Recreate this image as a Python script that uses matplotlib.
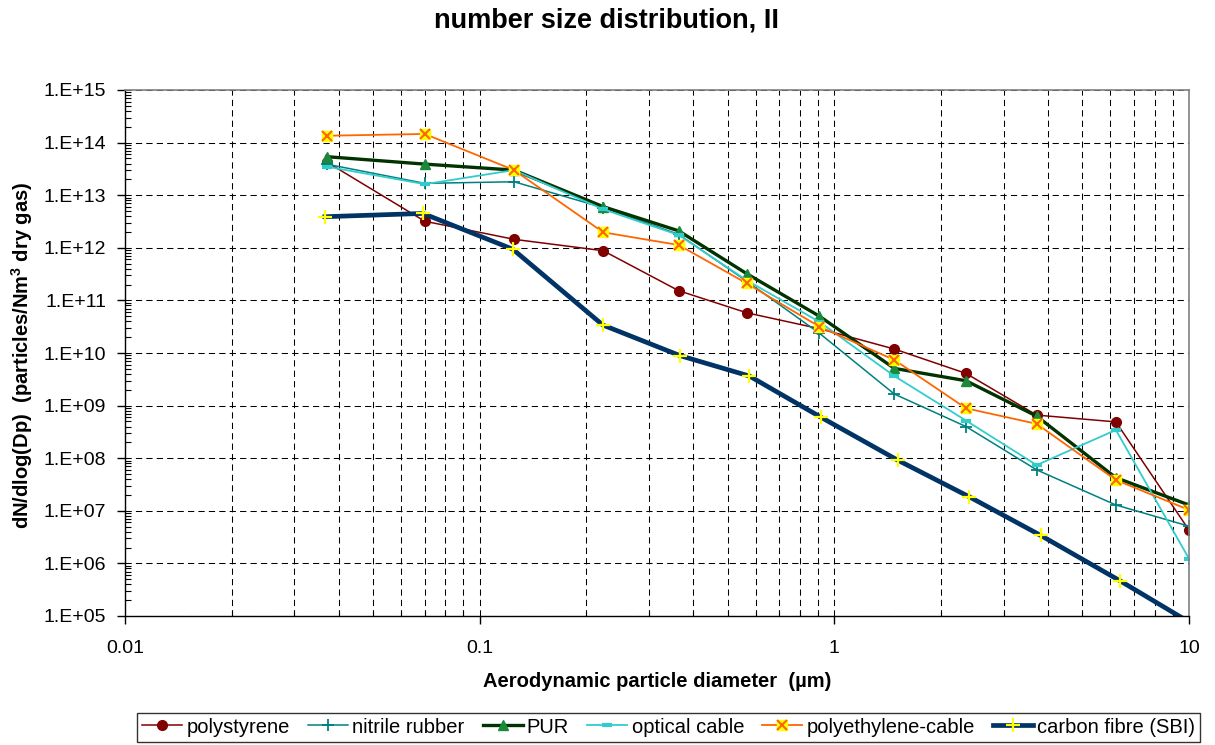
import numpy as np
import matplotlib
matplotlib.use("Agg")
import matplotlib.pyplot as plt
from matplotlib.ticker import LogLocator, FixedLocator, FuncFormatter, NullFormatter
from matplotlib.legend_handler import HandlerTuple

plt.rcParams["font.family"] = ["Liberation Sans", "DejaVu Sans"]
plt.rcParams["mathtext.fontset"] = "custom"
plt.rcParams["mathtext.rm"] = "Liberation Sans"
plt.rcParams["mathtext.bf"] = "Liberation Sans:bold"

# aerodynamic diameters (um)
dp = [0.037, 0.070, 0.125, 0.223, 0.364, 0.567, 0.908, 1.476, 2.35, 3.72, 6.22, 10.0]
dp_sbi = [0.0366, 0.0692, 0.124, 0.2225, 0.3675, 0.576, 0.917, 1.508, 2.40, 3.82, 6.38, 10.1]

polystyrene = [4.3e13, 3.2e12, 1.45e12, 8.8e11, 1.53e11, 5.8e10, 2.9e10, 1.19e10, 4.1e9, 6.6e8, 4.9e8, 4.3e6]
nitrile = [3.9e13, 1.68e13, 1.8e13, 5.8e12, 1.8e12, 2.3e11, 2.37e10, 1.66e9, 4.0e8, 6.0e7, 1.29e7, 5.1e6]
pur = [5.4e13, 3.9e13, 3.0e13, 6.05e12, 2.1e12, 3.2e11, 5.0e10, 5.1e9, 2.97e9, 6.3e8, 4.26e7, 1.29e7]
optical = [3.5e13, 1.62e13, 3.0e13, 5.4e12, 1.75e12, 2.4e11, 3.9e10, 3.65e9, 5.2e8, 7.4e7, 3.44e8, 1.23e6]
polyethylene = [1.35e14, 1.46e14, 3.0e13, 1.97e12, 1.13e12, 2.1e11, 3.16e10, 7.4e9, 8.9e8, 4.5e8, 3.85e7, 1.04e7]
carbon = [3.9e12, 4.5e12, 9.4e11, 3.4e10, 8.9e9, 3.65e9, 6.0e8, 9.2e7, 1.85e7, 3.4e6, 4.7e5, 7.4e4]

fig = plt.figure(figsize=(12.15, 7.45), dpi=100)
ax = fig.add_axes([125 / 1215, 1 - 616 / 745, 1064 / 1215, 526 / 745])

h_ps, = ax.plot(dp, polystyrene, color="#800000", lw=1.1, marker="o", ms=7,
                mfc="#800000", mec="#800000", label="polystyrene")
h_nr, = ax.plot(dp, nitrile, color="#008080", lw=1.1, marker="+", ms=8,
                mew=1.3, label="nitrile rubber")
h_pur, = ax.plot(dp, pur, color="#003300", lw=2.4, marker="^", ms=7,
                 mfc="#1a8a3a", mec="#1a8a3a", label="PUR")
h_oc, = ax.plot(dp, optical, color="#33CCCC", lw=1.3, marker="_", ms=7,
                mew=3, label="optical cable")
h_pe1, = ax.plot(dp, polyethylene, color="#FF6600", lw=1.3, marker="s", ms=6.5,
                 mfc="#FFFF00", mec="#FFFF00")
h_pe2, = ax.plot(dp, polyethylene, ls="none", marker="x", ms=6.5, mew=1.5,
                 color="#FF6600")
h_cf, = ax.plot(dp_sbi, carbon, color="#003366", lw=3.4, marker="+", ms=10,
                mew=1.6, mec="#FFFF00", label="carbon fibre (SBI)")

ax.set_xscale("log")
ax.set_yscale("log")
ax.set_xlim(0.01, 10)
ax.set_ylim(1e5, 1e15)

ax.xaxis.set_major_locator(FixedLocator([0.01, 0.1, 1, 10]))
ax.xaxis.set_major_formatter(FuncFormatter(lambda v, p: "%g" % v))
ax.xaxis.set_minor_locator(LogLocator(base=10, subs=np.arange(2, 10), numticks=20))
ax.xaxis.set_minor_formatter(NullFormatter())
ax.yaxis.set_major_locator(LogLocator(base=10, numticks=20))
ax.yaxis.set_major_formatter(FuncFormatter(lambda v, p: "1.E+%02d" % round(np.log10(v))))
ax.yaxis.set_minor_locator(LogLocator(base=10, subs=np.arange(2, 10), numticks=20))
ax.yaxis.set_minor_formatter(NullFormatter())

ax.tick_params(which="major", direction="out", length=5.5, width=1, labelsize=14)
ax.tick_params(axis="x", which="major", pad=12)
ax.tick_params(axis="y", which="major", pad=8)
ax.tick_params(which="minor", direction="in", length=4, width=0.8)
ax.tick_params(top=False, right=False, which="both")

ax.grid(True, which="both", axis="x", color="black", lw=0.75, ls=(0, (6, 4)))
ax.grid(True, which="major", axis="y", color="black", lw=0.75, ls=(0, (6, 4)))
ax.set_axisbelow(True)

for s in ["top", "right"]:
    ax.spines[s].set_color("#808080")
    ax.spines[s].set_linewidth(1.2)
for s in ["left", "bottom"]:
    ax.spines[s].set_color("black")
    ax.spines[s].set_linewidth(1.0)

ax.set_xlabel("Aerodynamic particle diameter  (µm)", fontsize=14.5, fontweight="bold")
ax.xaxis.label.set_va("center")
ax.xaxis.set_label_coords(0.5, -0.124)
ax.set_ylabel(r"dN/dlog(Dp)  (particles/Nm$^{\mathbf{3}}$ dry gas)", fontsize=14.5,
              fontweight="bold")
ax.yaxis.label.set_va("center")
ax.yaxis.set_label_coords(-0.097, 0.496)

fig.text(0.4988, 0.973, "number size distribution, II", fontsize=19.5,
         fontweight="bold", ha="center", va="center")

handles = [h_ps, h_nr, h_pur, h_oc, (h_pe1, h_pe2), h_cf]
labels = ["polystyrene", "nitrile rubber", "PUR", "optical cable",
          "polyethylene-cable", "carbon fibre (SBI)"]
leg = fig.legend(handles, labels, loc="upper left", bbox_to_anchor=(137 / 1215, 1 - 712.5 / 745),
                 ncol=6, fontsize=14.5, frameon=True, fancybox=False, edgecolor="black",
                 handlelength=2.0, handletextpad=0.2, columnspacing=0.9, borderpad=0.25,
                 borderaxespad=0, handler_map={tuple: HandlerTuple(ndivide=1, pad=0)})
leg.get_frame().set_linewidth(1.0)

fig.savefig("out.png", dpi=100)
